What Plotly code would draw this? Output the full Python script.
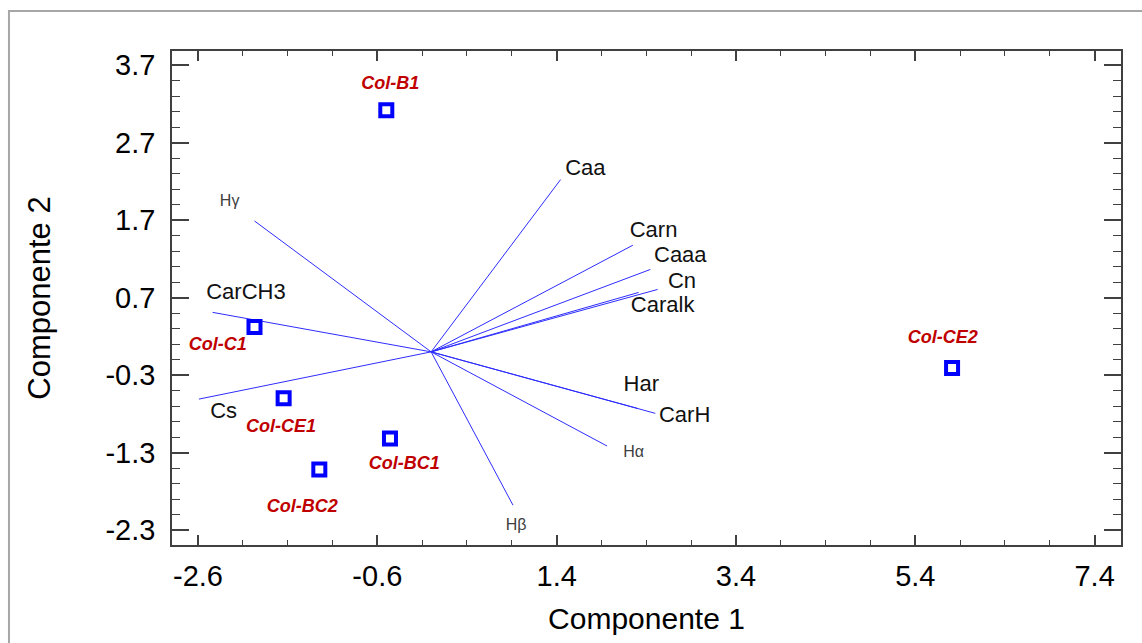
import plotly.graph_objects as go

# Sample scores
samples = ["Col-B1", "Col-C1", "Col-CE1", "Col-BC2", "Col-BC1", "Col-CE2"]
score_x = [-0.50, -1.97, -1.645, -1.247, -0.459, 5.81]
score_y = [3.12, 0.32, -0.60, -1.52, -1.12, -0.21]
# label offsets (data units) relative to the sample point
sample_lab_dx = [0.045, -0.41, -0.03, -0.19, 0.16, -0.105]
sample_lab_dy = [0.335, -0.233, -0.375, -0.49, -0.33, 0.383]

# Variable loadings (line end points from origin)
variables = ["Hγ", "CarCH3", "Cs", "Hβ", "Caa", "Carn", "Caaa", "Cn", "Caralk", "Har", "CarH", "Hα"]
load_x = [-1.97, -2.437, -2.59, 0.913, 1.444, 2.25, 2.445, 2.526, 2.314, 2.30, 2.50, 1.962]
load_y = [1.69, 0.51, -0.61, -1.98, 2.225, 1.377, 1.064, 0.806, 0.767, -0.73, -0.794, -1.216]
var_lab_dx = [-0.277, 0.372, 0.276, 0.034, 0.276, 0.231, 0.334, 0.272, 0.268, 0.044, 0.327, 0.296]
var_lab_dy = [0.24, 0.244, -0.17, -0.268, 0.133, 0.181, 0.171, 0.085, -0.186, 0.301, -0.044, -0.094]
greek = {"Hγ", "Hβ", "Hα"}

# Tick labels
x_tickvals = [-2.6, -0.6, 1.4, 3.4, 5.4, 7.4]
x_ticktext = ["-2.6", "-0.6", "1.4", "3.4", "5.4", "7.4"]
y_tickvals = [-2.3, -1.3, -0.3, 0.7, 1.7, 2.7, 3.7]
y_ticktext = ["-2.3", "-1.3", "-0.3", "0.7", "1.7", "2.7", "3.7"]

x_range = [-2.89, 7.694]
y_range = [-2.494, 3.885]

fig = go.Figure()

lx, ly = [], []
for a, b in zip(load_x, load_y):
    lx += [0, a, None]
    ly += [0, b, None]
fig.add_trace(go.Scatter(x=lx, y=ly, mode="lines",
                         line=dict(color="rgb(45,45,255)", width=1),
                         hoverinfo="skip", showlegend=False))

fig.add_trace(go.Scatter(x=score_x, y=score_y, mode="markers",
                         marker=dict(symbol="square-open", size=12, color="#0000ff",
                                     line=dict(color="#0000ff", width=4)),
                         text=samples, showlegend=False))

fig.add_trace(go.Scatter(
    x=[a + d for a, d in zip(score_x, sample_lab_dx)],
    y=[b + d for b, d in zip(score_y, sample_lab_dy)],
    mode="text", text=samples, textposition="middle center",
    textfont=dict(family="Liberation Sans", size=18, color="#c00000",
                  style="italic", weight="bold"),
    hoverinfo="skip", showlegend=False))

norm = [i for i, v in enumerate(variables) if v not in greek]
gr = [i for i, v in enumerate(variables) if v in greek]
for idx, fnt in ((norm, dict(family="Liberation Sans", size=22, color="#111111")),
                 (gr, dict(family="Liberation Sans", size=16, color="#404040"))):
    fig.add_trace(go.Scatter(
        x=[load_x[i] + var_lab_dx[i] for i in idx],
        y=[load_y[i] + var_lab_dy[i] for i in idx],
        mode="text", text=[variables[i] for i in idx],
        textposition="middle center", textfont=fnt,
        hoverinfo="skip", showlegend=False))

axis_common = dict(showline=True, linecolor="#404040", linewidth=1.5,
                   mirror="ticks", ticks="inside", tickcolor="#404040",
                   tickwidth=1.5, showgrid=False, zeroline=False,
                   tickmode="array",
                   tickfont=dict(family="Liberation Sans", size=29, color="#000000"))

fig.update_xaxes(range=x_range, tickvals=x_tickvals, ticktext=x_ticktext,
                 ticklen=10, ticklabelstandoff=4,
                 minor=dict(tick0=-2.6, dtick=0.5, ticklen=5, ticks="inside",
                            tickcolor="#404040", tickwidth=1.2),
                 title=dict(text="Componente 1", standoff=17,
                            font=dict(family="Liberation Sans", size=30, color="#000000")),
                 **axis_common)
fig.update_yaxes(range=y_range, tickvals=y_tickvals, ticktext=y_ticktext,
                 ticklen=17, ticklabelstandoff=9,
                 minor=dict(tick0=-2.3, dtick=0.2, ticklen=8, ticks="inside",
                            tickcolor="#404040", tickwidth=1.2),
                 title=dict(text="Componente 2", standoff=46,
                            font=dict(family="Liberation Sans", size=31, color="#000000")),
                 **axis_common)

# outer frame
fig.add_shape(type="rect", xref="paper", yref="paper",
              x0=-0.1718, x1=1.2, y0=-0.4, y1=1.0810,
              line=dict(color="#a6a6a6", width=2), layer="below")

fig.update_layout(width=1142, height=643,
                  margin=dict(l=172, r=21, t=51, b=98),
                  plot_bgcolor="white", paper_bgcolor="white",
                  showlegend=False)

fig.write_html("out.html")
